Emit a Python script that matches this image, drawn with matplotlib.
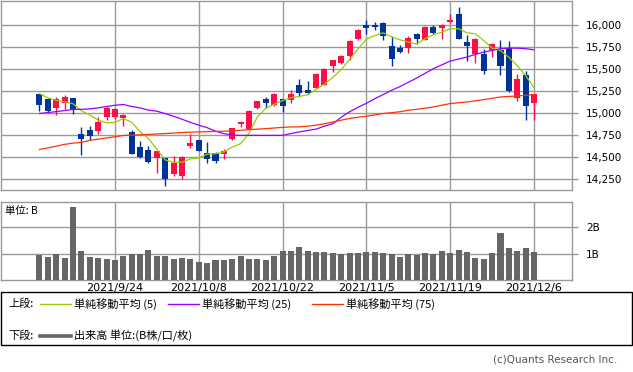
"""
Candlestick chart with moving averages and volume (upper / lower panels).
"""

import numpy as np
import matplotlib.pyplot as plt
from matplotlib.lines import Line2D

# ---- data (60 trading days) ----
opens = [15218, 15165, 15063, 15123, 15172, 14764, 14806, 14802, 14960, 14960,
         14945, 14787, 14617, 14583, 14496, 14492, 14314, 14291, 14628, 14696,
         14545, 14545, 14533, 14711, 14885, 14828, 15066, 15161, 15093, 15161,
         15150, 15320, 15270, 15293, 15327, 15539, 15577, 15648, 15849, 16011,
         16000, 16023, 15762, 15747, 15747, 15898, 15830, 15977, 15974, 16034,
         16125, 15807, 15679, 15679, 15716, 15716, 15743, 15176, 15433, 15119]
highs = [15225, 15180, 15184, 15206, 15175, 14847, 14855, 14960, 15089, 15066,
         14998, 14817, 14685, 14635, 14575, 14495, 14514, 14514, 14764, 14700,
         14673, 14560, 14594, 14835, 14915, 15036, 15140, 15184, 15229, 15165,
         15263, 15388, 15365, 15459, 15512, 15605, 15660, 15830, 15962, 16057,
         16042, 16034, 15875, 15773, 15875, 15917, 15989, 16000, 16019, 16125,
         16215, 15894, 15852, 15728, 15800, 15830, 15822, 15444, 15478, 15225]
lows = [15028, 15006, 14979, 15047, 14991, 14530, 14696, 14764, 14930, 14938,
        14855, 14535, 14492, 14440, 14325, 14178, 14288, 14254, 14609, 14570,
        14439, 14439, 14477, 14703, 14843, 14821, 15051, 15066, 15081, 15013,
        15115, 15199, 15225, 15286, 15320, 15471, 15565, 15603, 15837, 15906,
        15943, 15830, 15539, 15690, 15690, 15785, 15830, 15906, 15845, 16026,
        15849, 15592, 15577, 15444, 15641, 15433, 15244, 15142, 14923, 14923]
closes = [15096, 15029, 15161, 15184, 15051, 14711, 14745, 14900, 15059, 15047,
          14979, 14541, 14503, 14446, 14571, 14257, 14439, 14503, 14662, 14575,
          14484, 14462, 14571, 14832, 14896, 15025, 15138, 15119, 15218, 15085,
          15225, 15233, 15233, 15452, 15501, 15603, 15652, 15819, 15943, 15974,
          15985, 15883, 15618, 15698, 15860, 15841, 15977, 15917, 16004, 16057,
          15849, 15766, 15849, 15482, 15784, 15543, 15252, 15388, 15081, 15225]

ma5 = [15225, 15178, 15149, 15132, 15110, 15030, 14983, 14923, 14894, 14897,
       14942, 14900, 14792, 14713, 14594, 14471, 14443, 14443, 14484, 14492,
       14537, 14541, 14563, 14617, 14656, 14775, 14962, 15059, 15104, 15146,
       15178, 15193, 15213, 15271, 15334, 15410, 15498, 15614, 15733, 15845,
       15885, 15917, 15870, 15838, 15811, 15790, 15849, 15895, 15924, 15963,
       15963, 15917, 15906, 15828, 15743, 15714, 15638, 15544, 15431, 15291]
ma25 = [14999, 15010, 15020, 15033, 15045, 15047, 15051, 15063, 15078, 15093,
        15101, 15079, 15063, 15038, 15025, 14998, 14968, 14934, 14898, 14866,
        14838, 14798, 14770, 14753, 14750, 14750, 14750, 14750, 14750, 14750,
        14772, 14789, 14806, 14821, 14855, 14883, 14957, 15019, 15070, 15115,
        15167, 15214, 15263, 15305, 15354, 15402, 15456, 15509, 15552, 15595,
        15618, 15641, 15671, 15697, 15716, 15736, 15742, 15742, 15736, 15724]
ma75 = [14590, 14607, 14628, 14648, 14662, 14670, 14694, 14707, 14721, 14734,
        14749, 14753, 14756, 14762, 14766, 14771, 14776, 14782, 14787, 14790,
        14792, 14795, 14798, 14801, 14809, 14815, 14821, 14827, 14834, 14841,
        14846, 14847, 14855, 14866, 14883, 14902, 14923, 14942, 14957, 14968,
        14983, 14999, 15008, 15019, 15036, 15047, 15059, 15074, 15093, 15112,
        15121, 15130, 15144, 15157, 15172, 15187, 15193, 15198, 15206, 15214]

# volume in billions
volume = [0.96, 0.88, 0.99, 0.84, 2.77, 1.11, 0.88, 0.84, 0.81, 0.77,
          0.92, 0.99, 0.99, 1.14, 0.92, 0.92, 0.81, 0.84, 0.81, 0.69,
          0.65, 0.77, 0.77, 0.81, 0.92, 0.81, 0.81, 0.77, 0.92, 1.11,
          1.11, 1.26, 1.11, 1.07, 1.07, 1.03, 0.99, 1.03, 1.03, 1.07,
          1.07, 1.03, 0.99, 0.88, 0.99, 0.96, 1.03, 0.99, 1.11, 1.03,
          1.14, 1.07, 0.84, 0.81, 1.03, 1.79, 1.22, 1.11, 1.22, 1.07]

date_tick_index = [9, 19, 29, 39, 49, 59]
date_tick_labels = ['2021/9/24', '2021/10/8', '2021/10/22',
                    '2021/11/5', '2021/11/19', '2021/12/6']
price_ticks = [14250, 14500, 14750, 15000, 15250, 15500, 15750, 16000]
volume_ticks = [1, 2]
volume_tick_labels = ['1B', '2B']

# ---- style ----
UP = '#ff0d45'
DOWN = '#003399'
GRID = '#999999'
C_MA5 = '#99cc00'
C_MA25 = '#9900ff'
C_MA75 = '#ff3300'
VOL = '#666666'
JP = ['Noto Sans CJK JP', 'DejaVu Sans']

plt.rcParams['font.family'] = 'DejaVu Sans'
plt.rcParams['font.size'] = 8

W, H = 633, 372
fig = plt.figure(figsize=(W / 100, H / 100), dpi=100)
fig.patch.set_facecolor('white')


def px_axes(x0, y0, x1, y1):
    # axes from pixel box (top-left origin)
    return fig.add_axes([x0 / W, 1 - y1 / H, (x1 - x0) / W, (y1 - y0) / H])


def style_axes(ax):
    for s in ax.spines.values():
        s.set_color(GRID)
        s.set_linewidth(1.0)
    ax.grid(True, color=GRID, linewidth=1.0)
    ax.set_axisbelow(True)
    ax.yaxis.tick_right()
    ax.tick_params(axis='y', length=4, width=1.0, color=GRID, pad=6, labelsize=7.5)
    ax.tick_params(axis='x', length=0)


n = len(closes)
idx = np.arange(n)
o = np.array(opens)
c = np.array(closes)
xlim = (-4.65, 63.53)

# ---- upper panel: candles + MAs ----
ax = px_axes(0.5, 0.5, 572, 190)
style_axes(ax)
colors = np.where(c >= o, UP, DOWN)
ax.vlines(idx, lows, highs, colors=colors, linewidth=1.0, zorder=2)
body = np.maximum(np.abs(c - o), 12)
ax.bar(idx, body, bottom=np.minimum(o, c), width=0.72, color=colors, zorder=3)
ax.plot(idx, ma5, color=C_MA5, linewidth=0.9, zorder=4)
ax.plot(idx, ma25, color=C_MA25, linewidth=0.9, zorder=4)
ax.plot(idx, ma75, color=C_MA75, linewidth=0.9, zorder=4)
ax.set_xlim(*xlim)
ax.set_ylim(14129, 16284)
ax.set_yticks(price_ticks)
ax.set_yticklabels([f'{t:,}' for t in price_ticks])
ax.set_xticks(date_tick_index)
ax.set_xticklabels([])

# ---- lower panel: volume ----
axv = px_axes(0.5, 202, 572, 280)
style_axes(axv)
axv.bar(idx, volume, width=0.72, color=VOL, zorder=3)
axv.set_xlim(*xlim)
axv.set_ylim(0, 2.95)
axv.set_yticks(volume_ticks)
axv.set_yticklabels(volume_tick_labels)
axv.set_xticks(date_tick_index)
axv.set_xticklabels(date_tick_labels)
axv.tick_params(axis='x', pad=2, labelsize=8)
axv.text(5 / 572, 0.88, '単位: B', transform=axv.transAxes, family=JP,
         fontsize=7.5, va='center', ha='left')

# ---- legend box ----
def fx(x):
    return x / W


def fy(y):
    return 1 - y / H


box = plt.Rectangle((fx(0.5), fy(345)), fx(631.5), (345 - 292) / H,
                    transform=fig.transFigure, fill=False,
                    edgecolor='black', linewidth=1.0)
fig.add_artist(box)

row1, row2 = 304, 336
fig.text(fx(8), fy(row1), '上段:', family=JP, fontsize=8, va='center')
legend_items = [(40, C_MA5, '単純移動平均 (5)'),
                (168, C_MA25, '単純移動平均 (25)'),
                (312, C_MA75, '単純移動平均 (75)')]
for x0, col, lab in legend_items:
    fig.add_artist(Line2D([fx(x0), fx(x0 + 31)], [fy(row1), fy(row1)],
                          transform=fig.transFigure, color=col, linewidth=1.0))
    fig.text(fx(x0 + 34), fy(row1), lab, family=JP, fontsize=8, va='center')

fig.text(fx(8), fy(row2), '下段:', family=JP, fontsize=8, va='center')
fig.add_artist(Line2D([fx(40), fx(71)], [fy(row2), fy(row2)],
                      transform=fig.transFigure, color=VOL, linewidth=2.6))
fig.text(fx(74), fy(row2), '出来高 単位:(B株/口/枚)', family=JP, fontsize=8,
         va='center')

fig.text(fx(617), fy(359), '(c)Quants Research Inc.', fontsize=7.5,
         color='#555555', ha='right', va='center')

fig.savefig('out.png', dpi=100)
